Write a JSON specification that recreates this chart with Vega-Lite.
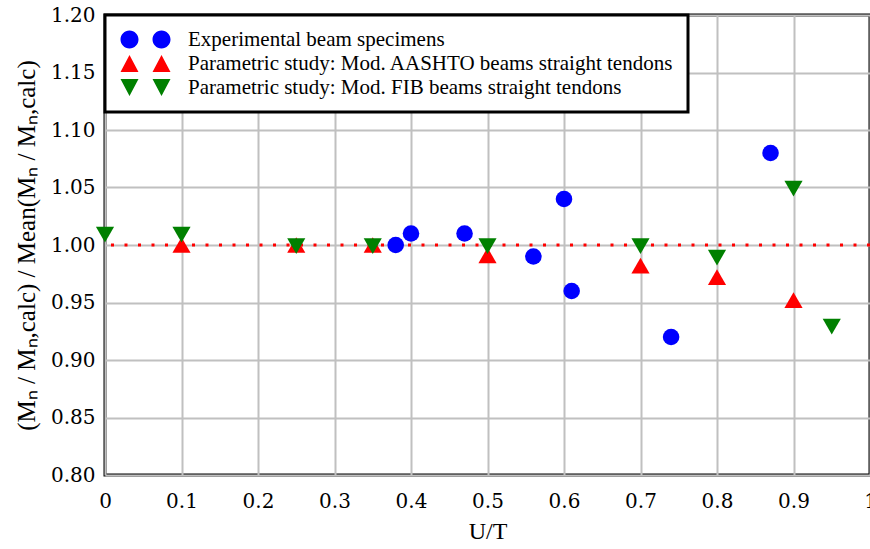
{
  "$schema": "https://vega.github.io/schema/vega-lite/v6.json",
  "width": 765,
  "height": 460,
  "autosize": {"type": "none"},
  "padding": {"left": 105, "top": 15, "right": 0, "bottom": 74},
  "background": "white",
  "config": {
    "view": {"stroke": "black", "strokeWidth": 3},
    "legend": {"strokeWidth": 3},
    "axis": {
      "labelFontSize": 20,
      "titleFontSize": 24,
      "titleFontWeight": "normal",
      "labelColor": "black",
      "titleColor": "black",
      "gridColor": "#c0c0c0",
      "gridWidth": 2,
      "gridOpacity": 1,
      "ticks": false,
      "domain": false
    }
  },
  "resolve": {"scale": {"color": "independent", "shape": "independent"}, "legend": {"color": "independent", "shape": "independent"}},
  "datasets": {
    "pts": [
      {"series": "Experimental beam specimens", "x": 0.38, "y": 1.00},
      {"series": "Experimental beam specimens", "x": 0.40, "y": 1.01},
      {"series": "Experimental beam specimens", "x": 0.47, "y": 1.01},
      {"series": "Experimental beam specimens", "x": 0.56, "y": 0.99},
      {"series": "Experimental beam specimens", "x": 0.60, "y": 1.04},
      {"series": "Experimental beam specimens", "x": 0.61, "y": 0.96},
      {"series": "Experimental beam specimens", "x": 0.74, "y": 0.92},
      {"series": "Experimental beam specimens", "x": 0.87, "y": 1.08},
      {"series": "Parametric study: Mod. AASHTO beams straight tendons", "x": 0.10, "y": 1.00},
      {"series": "Parametric study: Mod. AASHTO beams straight tendons", "x": 0.25, "y": 1.00},
      {"series": "Parametric study: Mod. AASHTO beams straight tendons", "x": 0.35, "y": 1.00},
      {"series": "Parametric study: Mod. AASHTO beams straight tendons", "x": 0.50, "y": 0.991},
      {"series": "Parametric study: Mod. AASHTO beams straight tendons", "x": 0.70, "y": 0.982},
      {"series": "Parametric study: Mod. AASHTO beams straight tendons", "x": 0.80, "y": 0.972},
      {"series": "Parametric study: Mod. AASHTO beams straight tendons", "x": 0.90, "y": 0.952},
      {"series": "Parametric study: Mod. FIB beams straight tendons", "x": 0.00, "y": 1.009},
      {"series": "Parametric study: Mod. FIB beams straight tendons", "x": 0.10, "y": 1.009},
      {"series": "Parametric study: Mod. FIB beams straight tendons", "x": 0.25, "y": 0.999},
      {"series": "Parametric study: Mod. FIB beams straight tendons", "x": 0.35, "y": 0.999},
      {"series": "Parametric study: Mod. FIB beams straight tendons", "x": 0.50, "y": 0.999},
      {"series": "Parametric study: Mod. FIB beams straight tendons", "x": 0.70, "y": 0.999},
      {"series": "Parametric study: Mod. FIB beams straight tendons", "x": 0.80, "y": 0.989},
      {"series": "Parametric study: Mod. FIB beams straight tendons", "x": 0.90, "y": 1.049},
      {"series": "Parametric study: Mod. FIB beams straight tendons", "x": 0.95, "y": 0.929}
    ]
  },
  "layer": [
    {
      "data": {"values": [{"ref": 1}]},
      "mark": {"type": "rule", "color": "red", "strokeWidth": 3, "strokeDash": [3, 10.5]},
      "encoding": {
        "y": {"field": "ref", "type": "quantitative", "scale": {"domain": [0.8, 1.2]}}
      }
    },
    {
      "data": {"name": "pts"},
      "mark": {"type": "point", "filled": true, "opacity": 1, "strokeWidth": 0},
      "encoding": {
        "x": {
          "field": "x", "type": "quantitative",
          "title": "U/T",
          "scale": {"domain": [0, 1], "nice": false},
          "axis": {"values": [0, 0.1, 0.2, 0.3, 0.4, 0.5, 0.6, 0.7, 0.8, 0.9, 1], "format": "~g", "labelPadding": 16, "titlePadding": 8, "labelFlush": false,
                   "labelFont": "DejaVu Serif", "titleFont": "Liberation Serif, serif"}
        },
        "y": {
          "field": "y", "type": "quantitative",
          "title": "(Mₙ / Mₙ,calc) / Mean(Mₙ / Mₙ,calc)",
          "scale": {"domain": [0.8, 1.2], "nice": false, "zero": false},
          "axis": {"values": [0.8, 0.85, 0.9, 0.95, 1.0, 1.05, 1.1, 1.15, 1.2], "format": ".2f", "labelPadding": 10, "titlePadding": 11, "labelFlush": false,
                   "labelFont": "DejaVu Serif", "titleFont": "Liberation Serif, serif", "titleFontSize": 25}
        },
        "color": {
          "field": "series", "type": "nominal",
          "scale": {
            "domain": ["Experimental beam specimens", "Parametric study: Mod. AASHTO beams straight tendons", "Parametric study: Mod. FIB beams straight tendons"],
            "range": ["#0000ff", "#ff0000", "#008000"]
          },
          "legend": null
        },
        "shape": {
          "field": "series", "type": "nominal",
          "scale": {
            "domain": ["Experimental beam specimens", "Parametric study: Mod. AASHTO beams straight tendons", "Parametric study: Mod. FIB beams straight tendons"],
            "range": ["circle", "triangle-up", "triangle-down"]
          },
          "legend": null
        },
        "size": {
          "condition": {"test": "datum.series === 'Experimental beam specimens'", "value": 275},
          "value": 330
        }
      }
    },
    {
      "data": {"name": "pts"},
      "mark": {"type": "point", "filled": true, "opacity": 1, "strokeWidth": 0, "size": 0},
      "encoding": {
        "x": {"field": "x", "type": "quantitative"},
        "y": {"field": "y", "type": "quantitative"},
        "color": {
          "field": "series", "type": "nominal",
          "scale": {
            "domain": ["Experimental beam specimens", "Parametric study: Mod. AASHTO beams straight tendons", "Parametric study: Mod. FIB beams straight tendons"],
            "range": ["#0000ff", "#ff0000", "#008000"]
          },
          "legend": {
            "title": null,
            "orient": "top-left",
            "offset": 0,
            "padding": 14,
            "strokeColor": "black",
            "fillColor": "white",
            "symbolSize": 324,
            "symbolStrokeWidth": 0,
            "symbolOffset": 0,
            "labelFont": "Times New Roman, Liberation Serif, serif",
            "labelFontSize": 21,
            "labelColor": "black",
            "labelLimit": 0,
            "labelOffset": 48,
            "rowPadding": 2
          }
        },
        "shape": {
          "field": "series", "type": "nominal",
          "scale": {
            "domain": ["Experimental beam specimens", "Parametric study: Mod. AASHTO beams straight tendons", "Parametric study: Mod. FIB beams straight tendons"],
            "range": [
              "M-1,0A1,1,0,1,0,1,0A1,1,0,1,0,-1,0ZM2.556,0A1,1,0,1,0,4.556,0A1,1,0,1,0,2.556,0Z",
              "M0,-0.95L1,0.95L-1,0.95ZM3.556,-0.95L4.556,0.95L2.556,0.95Z",
              "M0,0.95L1,-0.95L-1,-0.95ZM3.556,0.95L4.556,-0.95L2.556,-0.95Z"
            ]
          },
          "legend": {
            "title": null,
            "orient": "top-left",
            "offset": 0,
            "padding": 14,
            "strokeColor": "black",
            "fillColor": "white",
            "symbolSize": 324,
            "symbolStrokeWidth": 0,
            "symbolOffset": 0,
            "labelFont": "Times New Roman, Liberation Serif, serif",
            "labelFontSize": 21,
            "labelColor": "black",
            "labelLimit": 0,
            "labelOffset": 48,
            "rowPadding": 2
          }
        }
      }
    }
  ]
}
